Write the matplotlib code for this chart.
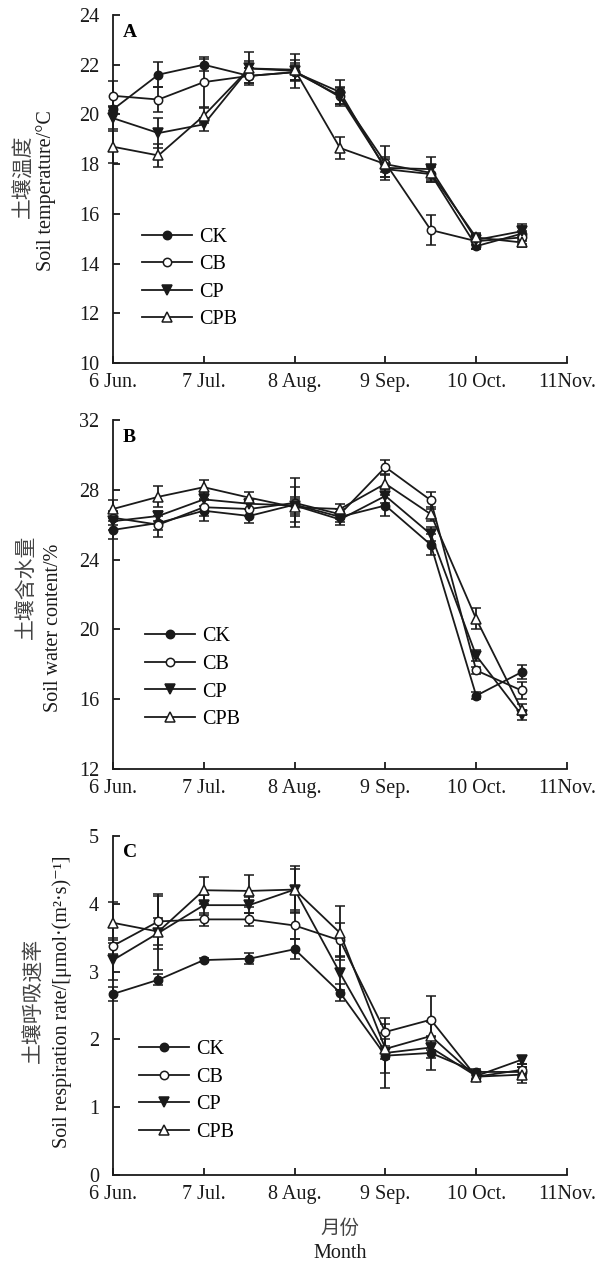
import numpy as np
import matplotlib
matplotlib.use("Agg")
import matplotlib.pyplot as plt

plt.rcParams['font.family'] = ['Liberation Serif', 'Noto Sans CJK SC', 'DejaVu Sans']
plt.rcParams['axes.unicode_minus'] = False

# sampling times (month index: 0 = 6 Jun.)
x = [0, 0.5, 1, 1.5, 2, 2.5, 3, 3.5, 4, 4.5]
month_ticks = [0, 1, 2, 3, 4, 5]
month_labels = ["6 Jun.", "7 Jul.", "8 Aug.", "9 Sep.", "10 Oct.", "11Nov."]
treatments = ["CK", "CB", "CP", "CPB"]

# A: soil temperature
temp_ck = [20.2, 21.6, 22.0, 21.55, 21.7, 20.9, 17.8, 17.6, 14.7, 15.2]
temp_cb = [20.75, 20.6, 21.3, 21.55, 21.7, 20.75, 18.05, 15.35, 14.9, 15.05]
temp_cp = [19.85, 19.25, 19.6, 21.85, 21.75, 20.7, 17.85, 17.8, 14.95, 15.3]
temp_cpb = [18.7, 18.35, 19.95, 21.85, 21.8, 18.65, 18.0, 17.65, 15.05, 14.85]
temp_ck_err = [0.15, 0.5, 0.25, 0.3, 0.3, 0.5, 0.3, 0.3, 0.1, 0.3]
temp_cb_err = [0.6, 0.5, 1.0, 0.3, 0.35, 0.35, 0.7, 0.6, 0.3, 0.25]
temp_cp_err = [0.45, 0.6, 0.25, 0.3, 0.7, 0.35, 0.35, 0.5, 0.2, 0.3]
temp_cpb_err = [0.65, 0.45, 0.3, 0.65, 0.4, 0.45, 0.3, 0.3, 0.2, 0.2]

# B: soil water content
swc_ck = [25.7, 26.1, 26.8, 26.5, 27.15, 26.45, 27.1, 24.85, 16.2, 17.55]
swc_cb = [26.4, 26.0, 27.0, 26.9, 27.25, 26.6, 29.3, 27.4, 17.65, 16.5]
swc_cp = [26.2, 26.5, 27.45, 27.2, 27.1, 26.3, 27.65, 25.45, 18.5, 15.1]
swc_cpb = [26.9, 27.6, 28.15, 27.55, 27.0, 26.9, 28.35, 26.6, 20.6, 15.4]
swc_ck_err = [0.5, 0.4, 0.6, 0.4, 1.0, 0.3, 0.6, 0.6, 0.2, 0.4]
swc_cb_err = [0.4, 0.7, 0.5, 0.4, 1.4, 0.3, 0.4, 0.5, 0.2, 0.5]
swc_cp_err = [0.5, 0.3, 0.4, 0.3, 0.5, 0.3, 0.4, 0.4, 0.3, 0.3]
swc_cpb_err = [0.5, 0.6, 0.4, 0.3, 0.5, 0.3, 0.5, 0.4, 0.6, 0.3]

# C: soil respiration rate
rs_ck = [2.67, 2.88, 3.17, 3.19, 3.33, 2.69, 1.76, 1.8, 1.52, 1.52]
rs_cb = [3.38, 3.74, 3.77, 3.77, 3.68, 3.46, 2.11, 2.29, 1.45, 1.55]
rs_cp = [3.17, 3.57, 3.98, 3.98, 4.21, 2.98, 1.8, 1.88, 1.46, 1.7]
rs_cpb = [3.72, 3.59, 4.2, 4.19, 4.21, 3.57, 1.86, 2.05, 1.45, 1.48]
rs_ck_err = [0.1, 0.08, 0.03, 0.08, 0.15, 0.12, 0.47, 0.25, 0.05, 0.08]
rs_cb_err = [0.12, 0.4, 0.1, 0.1, 0.2, 0.25, 0.2, 0.35, 0.05, 0.08]
rs_cp_err = [0.3, 0.55, 0.15, 0.12, 0.35, 0.25, 0.3, 0.15, 0.05, 0.06]
rs_cpb_err = [0.3, 0.2, 0.2, 0.23, 0.3, 0.4, 0.15, 0.2, 0.05, 0.12]

styles = {
    "CK": dict(marker="o", mfc="#1a1a1a", ms=6),
    "CB": dict(marker="o", mfc="white", ms=6),
    "CP": dict(marker="v", mfc="#1a1a1a", ms=7),
    "CPB": dict(marker="^", mfc="white", ms=7),
}

W, H = 611, 1269
fig = plt.figure(figsize=(W / 100, H / 100), dpi=100)

panels = [
    dict(rect=(113, 15, 567, 363), series=[temp_ck, temp_cb, temp_cp, temp_cpb],
         errs=[temp_ck_err, temp_cb_err, temp_cp_err, temp_cpb_err],
         ylim=(10, 24), yticks=[10, 12, 14, 16, 18, 20, 22, 24], letter="A",
         zh="土壤温度", en="Soil temperature/°C", zh_pos=(24, 176), en_pos=(46, 191),
         leg=(0.063, 0.389)),
    dict(rect=(113, 420, 567, 769), series=[swc_ck, swc_cb, swc_cp, swc_cpb],
         errs=[swc_ck_err, swc_cb_err, swc_cp_err, swc_cpb_err],
         ylim=(12, 32), yticks=[12, 16, 20, 24, 28, 32], letter="B",
         zh="土壤含水量", en="Soil water content/%", zh_pos=(26, 587), en_pos=(54, 628),
         leg=(0.070, 0.406)),
    dict(rect=(113, 836, 567, 1175), series=[rs_ck, rs_cb, rs_cp, rs_cpb],
         errs=[rs_ck_err, rs_cb_err, rs_cp_err, rs_cpb_err],
         ylim=(0, 5), yticks=[0, 1, 2, 3, 4, 5], letter="C",
         zh="土壤呼吸速率", en="Soil respiration rate/[μmol·(m²·s)⁻¹]",
         zh_pos=(34, 1000), en_pos=(62, 1002),
         leg=(0.057, 0.398)),
]

for p in panels:
    l, t, r, b = p["rect"]
    ax = fig.add_axes([l / W, 1 - b / H, (r - l) / W, (b - t) / H])
    for name, vals, err in zip(treatments, p["series"], p["errs"]):
        st = styles[name]
        ax.errorbar(x, vals, yerr=err, color="#1a1a1a", lw=1.3, elinewidth=1.3,
                    capsize=3.6, capthick=1.3, marker=st["marker"], ms=st["ms"],
                    mfc=st["mfc"], mec="#1a1a1a", mew=1.1, label=name,
                    clip_on=False, zorder=3)
    ax.set_xlim(0, 5)
    ax.set_ylim(*p["ylim"])
    ax.set_xticks(month_ticks)
    ax.set_xticklabels(month_labels)
    ax.set_yticks(p["yticks"])
    ax.spines["top"].set_visible(False)
    ax.spines["right"].set_visible(False)
    for s in ["left", "bottom"]:
        ax.spines[s].set_linewidth(1.3)
        ax.spines[s].set_color("#1a1a1a")
    ax.tick_params(direction="in", length=5, width=1.3, labelsize=14.5,
                   colors="#1a1a1a")
    ax.tick_params(axis="y", pad=10)
    ax.tick_params(axis="x", pad=7)
    ax.text(0.022, 0.975, p["letter"], transform=ax.transAxes, fontsize=14,
            fontweight="bold", va="top", ha="left")
    fig.text(p["zh_pos"][0] / W, 1 - p["zh_pos"][1] / H, p["zh"], rotation=90,
             ha="center", va="center", fontsize=15, color="#444444",
             family=["Noto Sans CJK SC"])
    fig.text(p["en_pos"][0] / W, 1 - p["en_pos"][1] / H, p["en"], rotation=90,
             ha="center", va="center", fontsize=14.5, color="#1a1a1a")
    handles, labels = ax.get_legend_handles_labels()
    handles = [h[0] for h in handles]
    ax.legend(handles, labels, loc="upper left", bbox_to_anchor=p["leg"],
              frameon=False, fontsize=14.5, handlelength=2.5, handletextpad=0.35,
              labelspacing=0.42, borderpad=0, borderaxespad=0)

fig.text(340 / W, 1 - 1228 / H, "月份", ha="center", va="center", fontsize=14,
         color="#444444", family=["Noto Sans CJK SC"])
fig.text(340 / W, 1 - 1253 / H, "Month", ha="center", va="center", fontsize=14.5,
         color="#1a1a1a")

fig.savefig("out.png", dpi=100)
